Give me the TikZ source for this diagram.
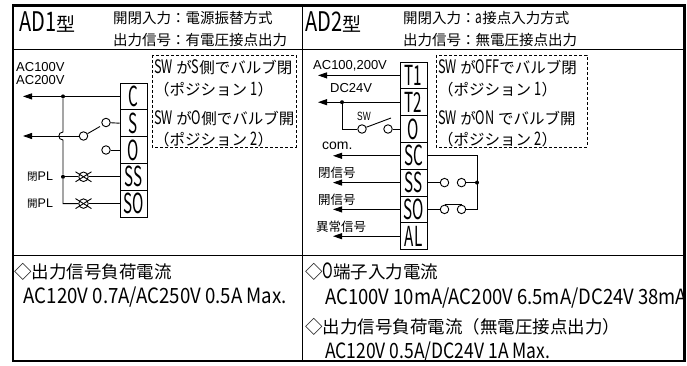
\documentclass[tikz,border=0pt]{standalone}
\usepackage{fontspec}
\usepackage{graphicx}
\setmainfont{Noto Sans CJK JP}
\newfontfamily\arialf{Liberation Sans}
\usetikzlibrary{arrows.meta,calc}
\newcommand\fs[1]{\fontsize{#1}{#1}\selectfont}
\newcommand\la[1]{\scalebox{0.82}[1.2]{#1}}
\newcommand\fitw[2]{\resizebox{#1}{\height}{\scalebox{1}[1.2]{#2}}}
\newcommand\bxt[1]{{\fs{19}\scalebox{0.8}[1.45]{#1}}}
\tikzset{
  wire/.style={line width=0.9pt},
  arr/.style={wire,-{Triangle[length=9pt,width=6pt]}},
  tbox/.style={draw,line width=0.9pt,minimum width=27pt,minimum height=26.8pt,inner sep=0pt},
  txt/.style={inner sep=0pt,anchor=west},
  jdot/.style={circle,fill,inner sep=0pt,minimum size=4pt},
  cnt/.style={circle,draw,line width=0.9pt,inner sep=0pt,minimum size=8.5pt},
  lampc/.style={circle,draw,line width=0.9pt,inner sep=0pt,minimum size=9.5pt},
  dbox/.style={draw,line width=0.9pt,dash pattern=on 3pt off 2pt},
}
\begin{document}
\begin{tikzpicture}[x=1pt,y=-1pt]
\useasboundingbox[fill=white] (0,0) rectangle (687,366);
% frame
\draw[line width=0.9pt] (13,49.5) -- (684.5,49.5);
\draw[line width=0.9pt] (302,5.5) -- (302,361);
\draw[line width=0.9pt] (13,255.5) -- (684.5,255.5);
\begin{scope}
\clip (13,5.5) rectangle (684,361);
% header
\node[txt] (ad1) at (19,22) {{\fs{20}\scalebox{1}[1.35]{AD1}}{\fs{19}型}};
\node[txt,font=\fs{14.5}] (h1a) at (113,17.5) {開閉入力：電源振替方式};
\node[txt,font=\fs{14.5}] (h1b) at (113,40.5) {出力信号：有電圧接点出力};
\node[txt] (ad2) at (305,22) {{\fs{20}\scalebox{1}[1.35]{AD2}}{\fs{19}型}};
\node[txt,font=\fs{14.5}] (h2a) at (403,17.5) {開閉入力：\la{a}接点入力方式};
\node[txt,font=\fs{14.5}] (h2b) at (403,40.5) {出力信号：無電圧接点出力};
% dashed boxes
\draw[dbox] (152,55) rectangle (296,147);
\draw[dbox] (436,55) rectangle (587,147);
\node[txt,font=\fs{15.5}] (d1a) at (154,67.5) {\la{SW} が\la{S}側でバルブ閉};
\node[txt,font=\fs{15.5}] (d1b) at (154,89.5) {（ポジション \la{1}）};
\node[txt,font=\fs{15.5}] (d1c) at (154,118) {\la{SW} が\la{O}側でバルブ開};
\node[txt,font=\fs{15.5}] (d1d) at (154,139) {（ポジション \la{2}）};
\node[txt,font=\fs{15.5}] (d2a) at (438,67.5) {\la{SW} が\la{OFF}でバルブ閉};
\node[txt,font=\fs{15.5}] (d2b) at (438,89.5) {（ポジション \la{1}）};
\node[txt,font=\fs{15.5}] (d2c) at (438,118) {\la{SW} が\la{ON} でバルブ開};
\node[txt,font=\fs{15.5}] (d2d) at (438,139) {（ポジション \la{2}）};
% bottom texts
\node[txt,font=\fs{17.5}] (b1a) at (14,272) {◇出力信号負荷電流};
\node[txt,font=\fs{17.5}] (b1b) at (23.5,297) {\fitw{263pt}{AC120V 0.7A/AC250V 0.5A Max.}};
\node[txt,font=\fs{17.5}] (b2a) at (305,272) {◇\la{O}端子入力電流};
\node[txt,font=\fs{17.5}] (b2b) at (325,298) {\fitw{362pt}{AC100V 10mA/AC200V 6.5mA/DC24V 38mA}};
\node[txt,font=\fs{17.5}] (b2c) at (305,327) {◇出力信号負荷電流（無電圧接点出力）};
\node[txt,font=\fs{17.5}] (b2d) at (325,352) {\fitw{225pt}{AC120V 0.5A/DC24V 1A Max.}};
\end{scope}
\draw[line width=2.5pt] (13,5.5) rectangle (684.5,361);
% ---------- left circuit ----------
\node[tbox] (C)  at (133.5,96.4)  {\bxt{C}};
\node[tbox] (S)  at (133.5,123.2) {\bxt{S}};
\node[tbox] (O)  at (133.5,150.0) {\bxt{O}};
\node[tbox] (SS) at (133.5,176.8) {\bxt{SS}};
\node[tbox] (SO) at (133.5,203.6) {\bxt{SO}};
\node[txt,font=\arialf\fs{13}] (l1) at (16,67) {AC100V};
\node[txt,font=\arialf\fs{13}] (l2) at (16,80.5) {AC200V};
\node[txt] (l3) at (27,177) {{\fs{10.5}閉}{\arialf\fs{12.5}PL}};
\node[txt] (l4) at (27,204) {{\fs{10.5}開}{\arialf\fs{12.5}PL}};
\coordinate (tC) at (23,96.4);
\coordinate (tM) at (23,136);
\draw[arr] (C.west) -- (tC);
\node[jdot] (j1) at (63,96.4) {};
\node[cnt] (ks) at (106,122.5) {};
\node[cnt] (ko) at (106,150) {};
\node[cnt] (kc) at (83.5,136) {};
\draw[wire] (S.west) -- (ks);
\draw[wire] (O.west) -- (ko);
\draw[arr] (kc.west) -- (tM);
\draw[wire] (kc.30) -- ($(ks)+(-6,4)$);
\node[jdot] (j2) at (63,176.8) {};
\node[lampc] (lss) at (83.5,176.8) {};
\node[lampc] (lso) at (83.5,203.6) {};
\foreach \l in {lss,lso}{
  \draw[wire] ($(\l)+(-8,-5)$) -- ($(\l)+(8,5)$);
  \draw[wire] ($(\l)+(-8,5)$) -- ($(\l)+(8,-5)$);
}
\draw[wire] (j1) -- (63,132) .. controls (57.5,132) and (57.5,140) .. (63,140) -- (j2) |- (lso.west);
\draw[wire] (j2) -- (lss.west);
\draw[wire] (lss.east) -- (SS.west);
\draw[wire] (lso.east) -- (SO.west);
% ---------- right circuit ----------
\node[tbox] (T1)  at (413.5,75.4)  {\bxt{T1}};
\node[tbox] (T2)  at (413.5,102.2) {\bxt{T2}};
\node[tbox] (O2)  at (413.5,129.0) {\bxt{O}};
\node[tbox] (SC2) at (413.5,155.8) {\bxt{SC}};
\node[tbox] (SS2) at (413.5,182.6) {\bxt{SS}};
\node[tbox] (SO2) at (413.5,209.4) {\bxt{SO}};
\node[tbox] (AL2) at (413.5,236.2) {\bxt{AL}};
\node[txt,font=\arialf\fs{13}] (r1) at (313,66) {AC100,200V};
\node[txt,font=\arialf\fs{13}] (r2) at (330,88) {DC24V};
\node[txt,font=\arialf\fs{12}] (r3) at (357,116) {\scalebox{0.7}[1]{SW}};
\node[txt,font=\arialf\fs{14}] (r4) at (322,146) {com.};
\node[txt,font=\fs{12.5}] (r5) at (318,173) {閉信号};
\node[txt,font=\fs{12.5}] (r6) at (318,200) {開信号};
\node[txt,font=\fs{12.5}] (r7) at (316,227) {異常信号};
\coordinate (tT1) at (318,75.4);
\coordinate (tT2) at (318,102.2);
\coordinate (tSC) at (333,155.8);
\coordinate (tSS) at (333,182.6);
\coordinate (tSO) at (333,209.4);
\coordinate (tAL) at (333,236.2);
\draw[arr] (T1.west) -- (tT1);
\draw[arr] (T2.west) -- (tT2);
\draw[arr] (SC2.west) -- (tSC);
\draw[arr] (SS2.west) -- (tSS);
\draw[arr] (SO2.west) -- (tSO);
\draw[arr] (AL2.west) -- (tAL);
\node[jdot] (j3) at (342,102.2) {};
\node[cnt] (w1) at (362,129) {};
\node[cnt] (w2) at (388,129) {};
\draw[wire] (j3) |- (w1.west);
\draw[wire] (w2.east) -- (O2.west);
\draw[wire] (w1.22) -- (391,118);
\node[cnt] (a1) at (444.5,182.6) {};
\node[cnt] (a2) at (461.5,182.6) {};
\node[jdot] (j4) at (477,182.6) {};
\node[cnt] (c1) at (444.5,209.4) {};
\node[cnt] (c2) at (461.5,209.4) {};
\draw[wire] (SS2.east) -- (a1.west);
\draw[wire] (a2.east) -- (j4);
\draw[wire] (SO2.east) -- (c1.west);
\draw[wire] (c2.east) -- (477,209.4) -- (477,155.8) -- (SC2.east);
\draw[wire] (c1.north) -- (c2.north);
\end{tikzpicture}
\end{document}
